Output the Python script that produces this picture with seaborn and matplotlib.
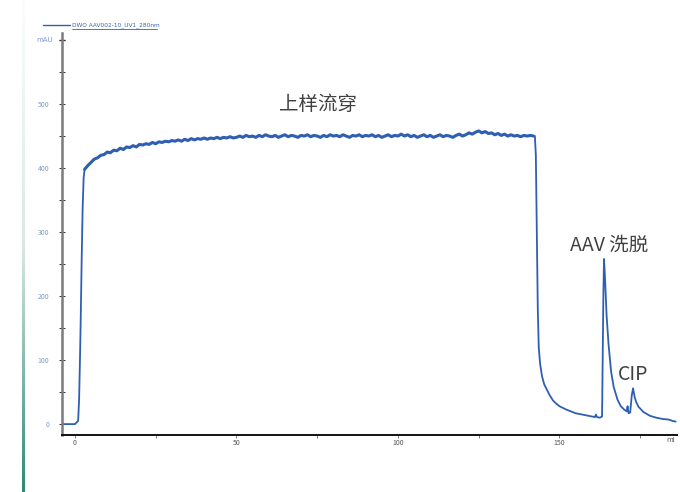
import numpy as np
import pandas as pd
import seaborn as sns
import matplotlib.pyplot as plt
from matplotlib.colors import LinearSegmentedColormap
from matplotlib.ticker import MultipleLocator, FixedLocator

# baseline + injection rise
rise_ml = [-4, -2, 0, 1.0, 1.3, 1.6, 1.8, 2.1, 2.4, 2.7]
rise_mau = [0, 0, 0, 5, 40, 110, 165, 260, 340, 385]

# loading flow-through plateau, 1 ml steps from 3 to 142
plateau_ml = list(range(3, 143))
plateau_mau = [
    398, 404, 409, 414, 416, 420, 421, 425, 424, 428,
    427, 431, 429, 433, 432, 435, 433, 437, 436, 438,
    437, 440, 438, 441, 440, 442, 441, 443, 442, 444,
    442, 445, 443, 446, 444, 446, 445, 447, 445, 447,
    446, 448, 446, 448, 447, 449, 447, 448,
    450, 448, 451, 449, 450, 448, 451, 449, 452, 450,
    449, 451, 448, 450, 452, 449, 451, 450, 448, 451,
    450, 452, 449, 451, 450, 448, 451, 449, 452, 450,
    451, 449, 452, 450, 448, 451, 450, 452, 449, 451,
    450, 452, 449, 451, 448, 450, 452, 449, 451, 450,
    453, 450, 452, 449, 451, 448, 450, 452, 449, 451,
    448, 450, 452, 449, 451, 450, 448, 451, 453, 450,
    452, 455, 453, 456, 458, 455, 457, 454, 455, 452,
    454, 451, 453, 450, 452, 450, 451, 449, 451, 450,
    451, 450,
]

# wash-out, AAV elution peak, CIP peak
tail_ml = [142.4, 142.7, 143.0, 143.3, 143.6, 144, 144.6, 145.3, 146, 147,
           148, 149, 150, 152, 155, 158, 161, 161.3, 161.6, 162.5,
           163.2, 163.6, 163.8, 164.1, 164.6, 165.2, 166, 166.8, 168, 169,
           170, 170.8, 171.1, 171.4, 171.9, 172.4, 172.8, 173.3, 173.8, 174.5,
           176, 178, 180, 182, 184, 185, 186]
tail_mau = [450, 420, 300, 180, 120, 95, 75, 62, 55, 45,
            37, 32, 28, 23, 17, 14, 11, 15, 11, 10,
            12, 200, 258, 230, 170, 125, 82, 58, 38, 28,
            23, 20, 28, 17, 18, 45, 56, 42, 34, 27,
            19, 13, 10, 8, 7, 5, 4]

x_ticks = [0, 50, 100, 150]
y_ticks = [0, 100, 200, 300, 400, 500]

df = pd.DataFrame({
    "ml": rise_ml + plateau_ml + tail_ml,
    "mAU": rise_mau + plateau_mau + tail_mau,
})
plateau_df = pd.DataFrame({"ml": plateau_ml, "mAU": plateau_mau})

sns.set_style("white")
plt.rcParams["font.family"] = ["Noto Sans CJK SC", "DejaVu Sans"]

blue = "#2f5fb3"
fig = plt.figure(figsize=(6.8, 4.92), dpi=100)
ax = fig.add_axes([62 / 680, 1 - 435 / 492, 615 / 680, 402 / 492])

sns.lineplot(data=df, x="ml", y="mAU", color=blue, linewidth=1.3, ax=ax,
             sort=False, estimator=None)
# noisy plateau reads as a thicker band
sns.lineplot(data=plateau_df, x="ml", y="mAU", color=blue, linewidth=2.2, ax=ax,
             sort=False, estimator=None)

ax.set_xlim(-4, 186.4)
ax.set_ylim(-17, 611)
ax.set_xlabel("")
ax.set_ylabel("")

ax.xaxis.set_major_locator(FixedLocator(x_ticks))
ax.xaxis.set_minor_locator(MultipleLocator(25))
ax.yaxis.set_major_locator(FixedLocator(y_ticks))
ax.yaxis.set_minor_locator(MultipleLocator(50))
ax.set_xticklabels([str(v) for v in x_ticks])
ax.set_yticklabels([str(v) for v in y_ticks])

ax.tick_params(axis="x", which="both", direction="out", length=2, width=0.6,
               color="#666666", labelsize=5, labelcolor="#555555", pad=1, bottom=True)
ax.tick_params(axis="y", which="both", direction="inout", length=4, width=0.7,
               color="#333333", labelsize=5, labelcolor="#7f9ad0", pad=7, left=True)

for s in ["top", "right"]:
    ax.spines[s].set_visible(False)
ax.spines["left"].set_color("#7a7a7a")
ax.spines["left"].set_linewidth(1.8)
ax.spines["bottom"].set_color("#111111")
ax.spines["bottom"].set_linewidth(1.4)

# units
ax.text(-9.5, 600, "mAU", fontsize=5, color="#7f9ad0", ha="center", va="center",
        family=["DejaVu Sans"])
ax.plot([-4], [600], marker="_", color="#333333", markersize=5, clip_on=False)
ax.text(184.5, -25, "ml", fontsize=5, color="#555555", ha="center", va="center",
        family=["DejaVu Sans"])

# annotations
ax.text(75.2, 500, "上样流穿", fontsize=14, color="#404040", ha="center", va="center")
ax.text(165.3, 280, "AAV 洗脱", fontsize=14, color="#404040", ha="center", va="center")
ax.text(172.8, 78, "CIP", fontsize=14, color="#404040", ha="center", va="center")

# legend entry at top
ly = 1 - 25 / 492
fig.add_artist(plt.Line2D([43 / 680, 70 / 680], [ly, ly], color=blue, linewidth=1.0))
fig.text(72 / 680, ly, "DWO AAV002-10_UV1_280nm", fontsize=4.2, color="#3a66b8",
         va="center", ha="left", family=["DejaVu Sans"])
fig.add_artist(plt.Line2D([72 / 680, 157 / 680], [ly - 4 / 492, ly - 4 / 492],
                          color=blue, linewidth=0.6))

# faint teal bar on the left edge
bar_ax = fig.add_axes([21.5 / 680, 0, 3 / 680, 1])
cmap = LinearSegmentedColormap.from_list("teal", ["#fbfdfc", "#d8e9e3", "#2e8a72"])
bar_ax.imshow(np.linspace(0, 1, 256).reshape(-1, 1), aspect="auto", cmap=cmap)
bar_ax.axis("off")

fig.savefig("out.png", dpi=100)
